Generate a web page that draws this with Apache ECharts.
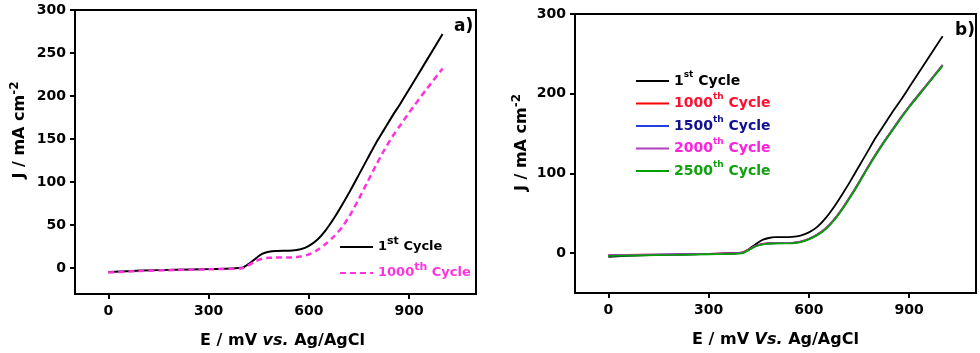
<!DOCTYPE html>
<html>
<head>
<meta charset="utf-8">
<script src="https://cdn.jsdelivr.net/npm/echarts@6/dist/echarts.min.js"></script>
<style>
  html, body { margin: 0; padding: 0; background: #fff; }
  #chart { width: 980px; height: 353px; }
</style>
</head>
<body>
<div id="chart"></div>
<script>
// potential (mV vs Ag/AgCl)
var potential = [0, 100, 200, 300, 400, 420, 440, 460, 480, 500, 550, 575, 600, 625, 650, 675, 700, 725, 750, 775, 800, 825, 850, 875, 900, 950, 1000];

// current density (mA cm-2)
var cycle1 = [-4.5, -2.8, -1.8, -1.0, 0.5, 5, 11, 16.5, 19, 20, 20.5, 22, 26, 33, 44, 58, 74, 91, 109, 127, 145, 161, 177, 192, 208, 240, 272];
var cycle1000a = [-5, -3.2, -2.2, -1.3, 0, 3.5, 8, 11, 12, 12.3, 12.5, 13.5, 16, 21, 28, 37, 48, 63, 81, 100, 119, 137, 153, 167, 181, 207, 232];

var cycle1000b = [-2.5, -2, -1.5, -0.8, 0.5, 4.5, 9, 11.5, 12.5, 12.8, 13, 14.5, 18, 23.5, 31, 42, 56, 72, 89, 107, 124, 140, 155, 170, 184, 210, 236];
var cycle1500 = [-3, -2.3, -1.7, -1, 0.3, 4.2, 8.8, 11.2, 12.3, 12.6, 12.8, 14.2, 17.7, 23.2, 30.7, 41.6, 55.7, 71.6, 88.7, 106.6, 123.7, 139.6, 154.7, 169.6, 183.7, 209.6, 235.8];
var cycle2000 = [-2.6, -2.1, -1.5, -0.9, 0.4, 4.4, 9, 11.4, 12.4, 12.7, 12.9, 14.4, 17.9, 23.4, 31, 42, 56, 72, 89, 107, 124, 140, 155, 170, 184, 210, 236];
var cycle2500 = [-3.5, -2.8, -2.2, -1.4, -0.2, 3.8, 8.3, 10.8, 11.8, 12.1, 12.3, 13.8, 17.2, 22.6, 30, 41, 55, 71, 88, 106, 123, 139, 154, 169, 183, 209, 235];

var xTicks = [0, 300, 600, 900];
var yTicksA = [0, 50, 100, 150, 200, 250, 300];
var yTicksB = [0, 100, 200, 300];

var font = "DejaVu Sans";

function pairs(ys) {
  return potential.map(function (x, i) { return [x, ys[i]]; });
}

function supRich(size) {
  return { sup: { fontSize: size, fontWeight: "bold", fontFamily: font, verticalAlign: "top", lineHeight: 12 } };
}

function legendFmt(name) {
  return name.trim().replace(/^(\d+)(st|th)/, "$1{sup|$2}");
}

function xAxisOf(idx, word, offset) {
  return {
    type: "value", gridIndex: idx, min: -100, max: 1100,
    name: "E / mV {i|" + word + "} Ag/AgCl",
    nameLocation: "middle", nameGap: 39,
    nameTextStyle: {
      fontFamily: font, fontWeight: "bold", fontSize: 16, color: "#000",
      padding: [0, 0, 0, offset],
      rich: { i: { fontFamily: font, fontWeight: "bold", fontStyle: "italic", fontSize: 16, color: "#000" } }
    },
    splitLine: { show: false },
    axisLine: { onZero: false, lineStyle: { color: "#000", width: 2 } },
    axisTick: { customValues: xTicks, length: 5, lineStyle: { color: "#000", width: 2 } },
    axisLabel: { customValues: xTicks, margin: 10, fontFamily: font, fontWeight: "bold", fontSize: 14, color: "#000" }
  };
}

function yAxisOf(idx, min, ticks, gap, shift) {
  return {
    type: "value", gridIndex: idx, min: min, max: 300,
    name: "J / mA cm{sup|-2}",
    nameLocation: "middle", nameGap: gap,
    nameTextStyle: {
      fontFamily: font, fontWeight: "bold", fontSize: 16, color: "#000", lineHeight: 22,
      padding: [0, 0, 0, shift],
      rich: { sup: { fontSize: 12, fontWeight: "bold", fontFamily: font, color: "#000", verticalAlign: "top", lineHeight: 12 } }
    },
    splitLine: { show: false },
    axisLine: { onZero: false, lineStyle: { color: "#000", width: 2 } },
    axisTick: { customValues: ticks, length: 5, lineStyle: { color: "#000", width: 2 } },
    axisLabel: { customValues: ticks, margin: 9, fontFamily: font, fontWeight: "bold", fontSize: 14, color: "#000" }
  };
}

function line(name, data, xi, color, width, dash) {
  return {
    name: name, type: "line", xAxisIndex: xi, yAxisIndex: xi,
    data: pairs(data), showSymbol: false, symbol: "none",
    smooth: 0.25,
    lineStyle: { color: color, width: width, type: dash || "solid" },
    itemStyle: { color: color }
  };
}

var hiddenSymbol = { color: "rgba(0,0,0,0)", borderWidth: 0, opacity: 0 };

var chart = echarts.init(document.getElementById("chart"), null, { renderer: "canvas" });
chart.setOption({
  animation: false,
  backgroundColor: "#fff",
  grid: [
    { left: 75, top: 10, width: 401, height: 284, show: true, borderColor: "#000", borderWidth: 2, outerBoundsMode: "none" },
    { left: 575, top: 14, width: 401, height: 279, show: true, borderColor: "#000", borderWidth: 2, outerBoundsMode: "none" }
  ],
  xAxis: [xAxisOf(0, "vs.", 14), xAxisOf(1, "Vs.", 0)],
  yAxis: [yAxisOf(0, -30, yTicksA, 44, 44), yAxisOf(1, -50, yTicksB, 41, 22)],
  legend: [
    {
      orient: "vertical", left: 339, top: 236, padding: 0, itemWidth: 33, itemHeight: 14, itemGap: 4,
      itemStyle: hiddenSymbol,
      formatter: legendFmt,
      textStyle: { fontFamily: font, fontWeight: "bold", fontSize: 13, lineHeight: 22, rich: supRich(11) },
      data: [
        { name: "1st Cycle", textStyle: { color: "#000" } },
        { name: "1000th Cycle", textStyle: { color: "#ff33dd" } }
      ]
    },
    {
      orient: "vertical", left: 635, top: 70, padding: 0, itemWidth: 33, itemHeight: 14, itemGap: 0.5,
      itemStyle: hiddenSymbol,
      formatter: legendFmt,
      textStyle: { fontFamily: font, fontWeight: "bold", fontSize: 14, lineHeight: 22, rich: supRich(9) },
      data: [
        { name: "1st Cycle ", textStyle: { color: "#000" } },
        { name: "1000th Cycle ", textStyle: { color: "#ff1030" } },
        { name: "1500th Cycle", textStyle: { color: "#101090" } },
        { name: "2000th Cycle", textStyle: { color: "#ff20e0" } },
        { name: "2500th Cycle", textStyle: { color: "#10a010" } }
      ]
    }
  ],
  series: [
    line("1st Cycle", cycle1, 0, "#000", 2),
    line("1000th Cycle", cycle1000a, 0, "#ff33dd", 2.5, [6, 4]),
    line("1st Cycle ", cycle1, 1, "#000", 1.8),
    line("1000th Cycle ", cycle1000b, 1, "#ff0000", 1.8),
    line("1500th Cycle", cycle1500, 1, "#2040e0", 1.8),
    line("2000th Cycle", cycle2000, 1, "#b040c0", 1.8),
    line("2500th Cycle", cycle2500, 1, "#00a000", 1.8)
  ],
  graphic: [
    { type: "text", left: 454, top: 18, style: { text: "a)", fontFamily: font, fontWeight: "bold", fontSize: 17, fill: "#000" } },
    { type: "text", left: 955, top: 22, style: { text: "b)", fontFamily: font, fontWeight: "bold", fontSize: 17, fill: "#000" } }
  ]
});
</script>
</body>
</html>
